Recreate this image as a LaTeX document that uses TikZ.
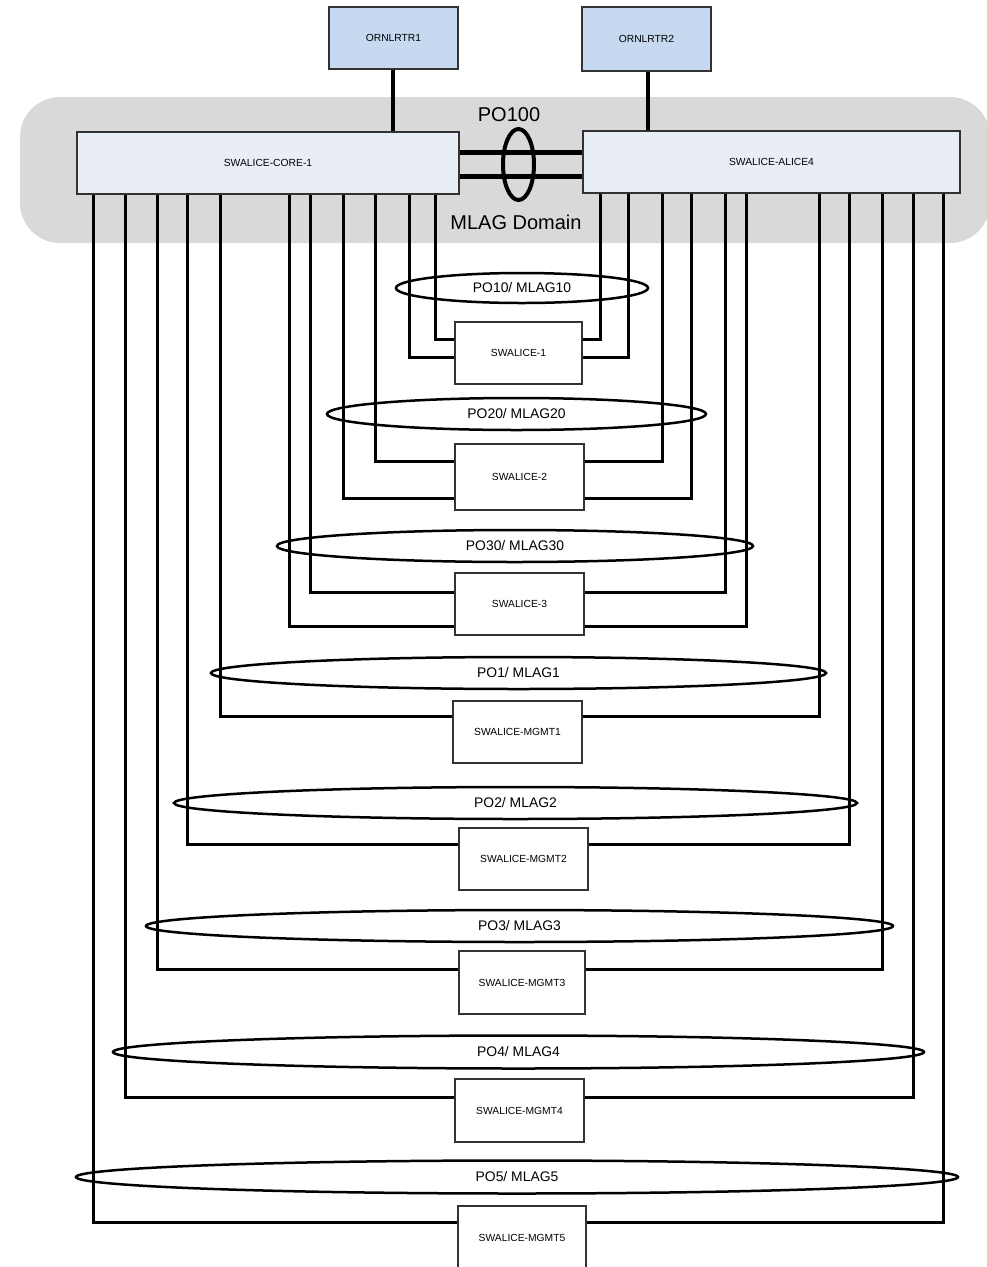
\documentclass[tikz,border=0pt]{standalone}
\usepackage{fontspec}
\setmainfont{Liberation Sans}
\usetikzlibrary{shapes.geometric}
\definecolor{rtrblue}{RGB}{198,217,240}
\definecolor{corefill}{RGB}{232,237,246}
\definecolor{domaingray}{RGB}{217,217,217}
\definecolor{boxline}{RGB}{50,50,50}
\tikzset{
  smalltext/.style={font=\fontsize{10.3}{12}\selectfont},
  box/.style={draw=boxline, line width=1.2pt, inner sep=0pt, smalltext, fill=white},
  rtrbox/.style={box, fill=rtrblue},
  corebox/.style={box, fill=corefill},
  link/.style={line width=3pt, black},
  uplink/.style={line width=4pt, black},
  peerlink/.style={line width=5pt, black},
  lag/.style={ellipse, draw, line width=2.5pt, inner sep=0pt, font=\fontsize{13.9}{16}\selectfont},
  bigtext/.style={font=\fontsize{20}{24}\selectfont}
}
\begin{document}
\begin{tikzpicture}[x=1pt, y=-1pt]
\useasboundingbox (0,0) rectangle (986,1267);
% MLAG domain background
\fill[domaingray, rounded corners=40pt] (20,97) rectangle (990,243);

% nodes
\node[rtrbox, minimum width=129pt, minimum height=62pt] (r1) at (393.5,38) {ORNLRTR1};
\node[rtrbox, minimum width=129pt, minimum height=64pt] (r2) at (646.5,39) {ORNLRTR2};
\node[corebox, minimum width=382pt, minimum height=62pt] (core) at (268,163) {SWALICE-CORE-1};
\node[corebox, minimum width=377pt, minimum height=62pt] (alice) at (771.5,162) {SWALICE-ALICE4};

\node[box, minimum width=127pt, minimum height=62pt] (s1) at (518.5,353) {SWALICE-1};
\node[box, minimum width=129pt, minimum height=66pt] (s2) at (519.5,477) {SWALICE-2};
\node[box, minimum width=129pt, minimum height=62pt] (s3) at (519.5,604) {SWALICE-3};
\node[box, minimum width=129pt, minimum height=62pt] (m1) at (517.5,732) {SWALICE-MGMT1};
\node[box, minimum width=129pt, minimum height=62pt] (m2) at (523.5,859) {SWALICE-MGMT2};
\node[box, minimum width=126pt, minimum height=63pt] (m3) at (522,982.5) {SWALICE-MGMT3};
\node[box, minimum width=129pt, minimum height=63pt] (m4) at (519.5,1110.5) {SWALICE-MGMT4};
\node[box, minimum width=128pt, minimum height=63pt] (m5) at (522,1237.5) {SWALICE-MGMT5};

% uplinks
\draw[uplink] (393,0 |- r1.south) -- (393,0 |- core.north);
\draw[uplink] (648,0 |- r2.south) -- (648,0 |- alice.north);

% peer links PO100
\draw[peerlink] (core.east |- 0,152) -- (alice.west |- 0,152);
\draw[peerlink] (core.east |- 0,176) -- (alice.west |- 0,176);

% downlinks (behind boxes)
\begin{scope}[on background layer/.style={}]
\draw[link] (435,0 |- core.south) |- (s1.west |- 0,339);
\draw[link] (409,0 |- core.south) |- (s1.west |- 0,357);
\draw[link] (600,0 |- alice.south) |- (s1.east |- 0,339);
\draw[link] (628,0 |- alice.south) |- (s1.east |- 0,357);

\draw[link] (375,0 |- core.south) |- (s2.west |- 0,461);
\draw[link] (343,0 |- core.south) |- (s2.west |- 0,498);
\draw[link] (662,0 |- alice.south) |- (s2.east |- 0,461);
\draw[link] (691,0 |- alice.south) |- (s2.east |- 0,498);

\draw[link] (310,0 |- core.south) |- (s3.west |- 0,592);
\draw[link] (289,0 |- core.south) |- (s3.west |- 0,626);
\draw[link] (725,0 |- alice.south) |- (s3.east |- 0,592);
\draw[link] (746,0 |- alice.south) |- (s3.east |- 0,626);

\draw[link] (220,0 |- core.south) |- (m1.west |- 0,716);
\draw[link] (819,0 |- alice.south) |- (m1.east |- 0,716);
\draw[link] (187,0 |- core.south) |- (m2.west |- 0,844);
\draw[link] (849,0 |- alice.south) |- (m2.east |- 0,844);
\draw[link] (157,0 |- core.south) |- (m3.west |- 0,969);
\draw[link] (882,0 |- alice.south) |- (m3.east |- 0,969);
\draw[link] (125,0 |- core.south) |- (m4.west |- 0,1097);
\draw[link] (913,0 |- alice.south) |- (m4.east |- 0,1097);
\draw[link] (93,0 |- core.south) |- (m5.west |- 0,1222);
\draw[link] (943,0 |- alice.south) |- (m5.east |- 0,1222);
\end{scope}

% LAG ellipses
\node[lag, line width=4pt, minimum width=31pt, minimum height=71pt] (po100) at (518.5,164.5) {};
\node[bigtext] (po100lbl) at (509,115) {PO100};
\node[bigtext] (mlag) at (516,222) {MLAG Domain};

\node[lag, minimum width=252pt, minimum height=30pt] (po10) at (522,288) {PO10/ MLAG10};
\node[lag, minimum width=379pt, minimum height=32pt] (po20) at (516.5,414) {PO20/ MLAG20};
\node[lag, minimum width=476pt, minimum height=32pt] (po30) at (515,546) {PO30/ MLAG30};
\node[lag, minimum width=615pt, minimum height=32pt] (po1) at (518.5,673) {PO1/ MLAG1};
\node[lag, minimum width=683pt, minimum height=32pt] (po2) at (515.5,803) {PO2/ MLAG2};
\node[lag, minimum width=747pt, minimum height=32pt] (po3) at (519.5,926) {PO3/ MLAG3};
\node[lag, minimum width=811pt, minimum height=33pt] (po4) at (518.5,1052) {PO4/ MLAG4};
\node[lag, minimum width=882pt, minimum height=33pt] (po5) at (517,1177) {PO5/ MLAG5};
\end{tikzpicture}
\end{document}
